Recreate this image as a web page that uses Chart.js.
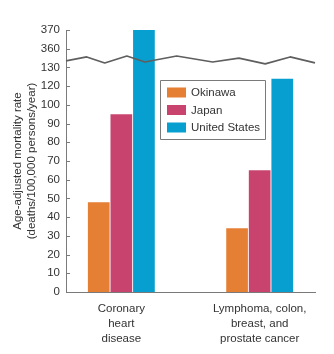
<!DOCTYPE html>
<html lang="en">
<head>
<meta charset="UTF-8">
<title>Age-adjusted mortality rate</title>
<script src="https://cdn.jsdelivr.net/npm/chart.js"></script>
<style>
  html, body { margin: 0; padding: 0; background: #fff; }
  #area { width: 334px; height: 354px; }
</style>
</head>
<body>
<div id="area"><canvas id="grafico"></canvas></div>
<script>
// categories (x axis, multi-line labels)
const categorias = [
  ['Coronary', 'heart', 'disease'],
  ['Lymphoma, colon,', 'breast, and', 'prostate cancer']
];
// series names and values (deaths/100,000 persons/year)
const nomes = ['Okinawa', 'Japan', 'United States'];
const okinawa = [48, 34];
const japao = [95, 65];
const eua = [370, 124];
const cores = ['#E57F33', '#C8446F', '#069FD0'];

// broken y axis: tick labels, evenly spaced
const yTicks = [0, 10, 20, 30, 40, 50, 60, 70, 80, 90, 100, 120, 130, 360, 370];

// zigzag break mark (x in category units, y in tick-index units)
const quebraX = [-0.4, -0.25, -0.12, 0.04, 0.17, 0.4, 0.66, 0.85, 1.04, 1.22, 1.4];
const quebraY = [12.35, 12.56, 12.24, 12.61, 12.29, 12.61, 12.29, 12.5, 12.19, 12.56, 12.24];

// converts a real value to the position on the broken axis
const posicao = v => {
  for (let i = 1; i < yTicks.length; i++) {
    if (v <= yTicks[i]) {
      return (i - 1) + (v - yTicks[i - 1]) / (yTicks[i] - yTicks[i - 1]);
    }
  }
  return yTicks.length - 1;
};

const fonte = { family: '"Liberation Sans", Arial, sans-serif', size: 11.5 };
const corTexto = '#333';

// draws inner tick marks, the axis break and the legend box
const extras = {
  id: 'extras',
  afterDatasetsDraw(chart) {
    const { ctx, chartArea, scales: { x, y } } = chart;
    ctx.save();

    ctx.strokeStyle = '#7a7a7a';
    ctx.lineWidth = 1;
    y.ticks.forEach(t => {
      if (t.value === 0) return;
      const py = Math.round(y.getPixelForValue(t.value)) + 0.5;
      ctx.beginPath();
      ctx.moveTo(chartArea.left, py);
      ctx.lineTo(chartArea.left + 4, py);
      ctx.stroke();
    });

    ctx.strokeStyle = '#5f5f5f';
    ctx.lineWidth = 1.7;
    ctx.lineJoin = 'round';
    ctx.beginPath();
    quebraX.forEach((bx, i) => {
      const px = x.getPixelForValue(bx);
      const py = y.getPixelForValue(quebraY[i]);
      if (i === 0) ctx.moveTo(px, py); else ctx.lineTo(px, py);
    });
    ctx.stroke();

    // legend
    const bx = chartArea.left + 94.5, by = chartArea.top + 50.5;
    ctx.fillStyle = '#fff';
    ctx.fillRect(bx, by, 105, 59);
    ctx.strokeStyle = '#7a7a7a';
    ctx.lineWidth = 1;
    ctx.strokeRect(bx, by, 105, 59);
    ctx.font = fonte.size + 'px ' + fonte.family;
    ctx.textBaseline = 'middle';
    chart.data.datasets.forEach((ds, i) => {
      const cy = by + 12 + i * 17.5;
      ctx.fillStyle = ds.backgroundColor;
      ctx.fillRect(bx + 6.5, cy - 5, 19, 10);
      ctx.fillStyle = corTexto;
      ctx.fillText(ds.label, bx + 30.5, cy + 0.5);
    });

    ctx.restore();
  }
};

const series = [okinawa, japao, eua];

new Chart(document.getElementById('grafico'), {
  type: 'bar',
  data: {
    datasets: series.map((vals, i) => ({
      label: nomes[i],
      data: vals.map((v, j) => ({ x: j, y: posicao(v) })),
      backgroundColor: cores[i],
      borderWidth: 0,
      barPercentage: 0.96,
      categoryPercentage: 0.49
    }))
  },
  options: {
    responsive: true,
    maintainAspectRatio: false,
    animation: false,
    layout: { padding: { left: 0, right: 19, top: 30, bottom: 0 } },
    plugins: { legend: { display: false }, tooltip: { enabled: false } },
    scales: {
      x: {
        type: 'linear',
        min: -0.4,
        max: 1.4,
        offset: false,
        afterBuildTicks: s => { s.ticks = [{ value: 0 }, { value: 1 }]; },
        afterFit: s => { s.height = 62; },
        grid: { display: false, drawTicks: false, offset: false },
        border: { display: true, color: '#7a7a7a', width: 1 },
        ticks: {
          callback: v => categorias[v],
          color: corTexto,
          font: { ...fonte, lineHeight: '15px' },
          padding: 9,
          maxRotation: 0,
          autoSkip: false
        }
      },
      y: {
        min: 0,
        max: yTicks.length - 1,
        afterFit: s => { s.width = 66; },
        grid: { display: false, drawTicks: false },
        border: { display: true, color: '#7a7a7a', width: 1 },
        ticks: {
          stepSize: 1,
          callback: v => yTicks[v],
          color: corTexto,
          font: fonte,
          padding: 6
        },
        title: {
          display: true,
          text: ['Age-adjusted mortality rate', '(deaths/100,000 persons/year)'],
          color: corTexto,
          font: { ...fonte, lineHeight: '14px' },
          padding: { top: 11, bottom: 0 }
        }
      }
    }
  },
  plugins: [extras]
});
</script>
</body>
</html>
